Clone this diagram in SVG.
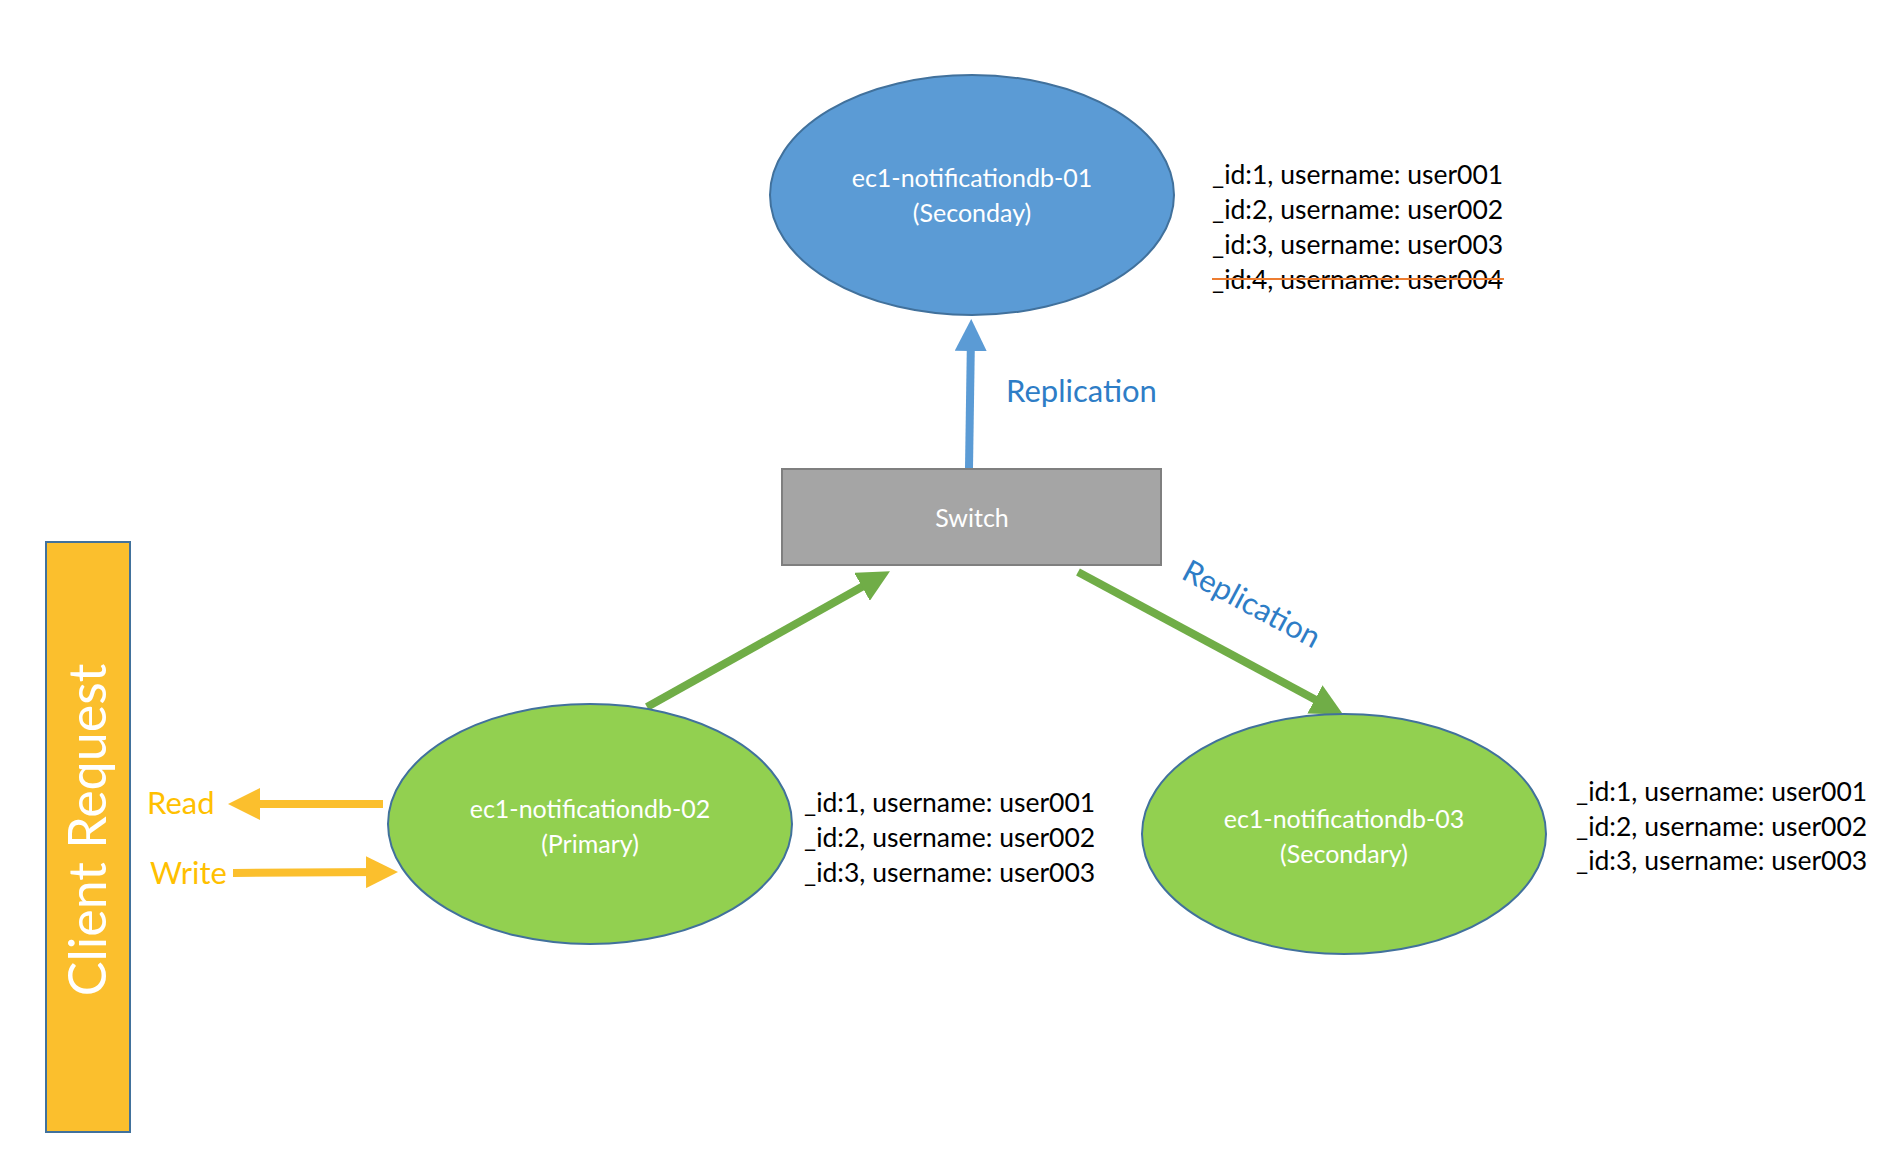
<svg xmlns="http://www.w3.org/2000/svg" width="1878" height="1162" viewBox="0 0 1878 1162">
<style>
text{font-family:Lato,"Liberation Sans",sans-serif}
.nl{fill:#fff;font-size:25px;text-anchor:middle}
.rec{fill:#000;font-size:26.5px}
.rep{fill:#2e7dc6;font-size:31px}
.cl{fill:#ffc000;font-size:31px}
</style>
<defs>
<marker id="ab" markerWidth="4" markerHeight="4" refX="2" refY="2" orient="auto" markerUnits="strokeWidth"><path d="M0,0L4,2L0,4z" fill="#5b9bd5"/></marker>
<marker id="ag" markerWidth="4" markerHeight="4" refX="2" refY="2" orient="auto" markerUnits="strokeWidth"><path d="M0,0L4,2L0,4z" fill="#70ad47"/></marker>
<marker id="ay" markerWidth="4" markerHeight="4" refX="2" refY="2" orient="auto" markerUnits="strokeWidth"><path d="M0,0L4,2L0,4z" fill="#fbbf2d"/></marker>
</defs>
<rect width="1878" height="1162" fill="#fff"/>
<g id="client">
<rect x="46" y="542" width="84" height="590" fill="#fbbf2d" stroke="#41719c" stroke-width="2"/>
<text transform="translate(106,830) rotate(-90)" text-anchor="middle" fill="#fff" font-size="52">Client Request</text>
</g>
<g id="connectors">
<line x1="969" y1="468" x2="971" y2="335" stroke="#5b9bd5" stroke-width="8" marker-end="url(#ab)"/>
<line x1="647" y1="707" x2="876" y2="579" stroke="#70ad47" stroke-width="8" marker-end="url(#ag)"/>
<line x1="1078" y1="572" x2="1329" y2="707" stroke="#70ad47" stroke-width="8" marker-end="url(#ag)"/>
<line x1="383" y1="804" x2="244" y2="804" stroke="#fbbf2d" stroke-width="8" marker-end="url(#ay)"/>
<line x1="233" y1="873" x2="382" y2="872" stroke="#fbbf2d" stroke-width="8" marker-end="url(#ay)"/>
<text class="rep" x="1006" y="402">Replication</text>
<text class="rep" transform="translate(1180,578) rotate(28)">Replication</text>
<text class="cl" x="147" y="814">Read</text>
<text class="cl" x="150" y="884">Write</text>
</g>
<g id="db01">
<ellipse cx="972" cy="195" rx="202" ry="120" fill="#5b9bd5" stroke="#41719c" stroke-width="2"/>
<text class="nl" x="972" y="187">ec1-notificationdb-01</text>
<text class="nl" x="972" y="222">(Seconday)</text>
<text class="rec" x="1212" y="184">_id:1, username: user001</text>
<text class="rec" x="1212" y="219">_id:2, username: user002</text>
<text class="rec" x="1212" y="254">_id:3, username: user003</text>
<text class="rec" x="1212" y="289">_id:4, username: user004</text>
<line x1="1212" y1="279" x2="1504" y2="279" stroke="#ed7d31" stroke-width="2"/>
</g>
<g id="switch">
<rect x="782" y="469" width="379" height="96" fill="#a5a5a5" stroke="#7f7f7f" stroke-width="2"/>
<text class="nl" x="972" y="527">Switch</text>
</g>
<g id="db02">
<ellipse cx="590" cy="824" rx="202" ry="120" fill="#92d050" stroke="#41719c" stroke-width="2"/>
<text class="nl" x="590" y="818">ec1-notificationdb-02</text>
<text class="nl" x="590" y="853">(Primary)</text>
<text class="rec" x="804" y="812">_id:1, username: user001</text>
<text class="rec" x="804" y="847">_id:2, username: user002</text>
<text class="rec" x="804" y="882">_id:3, username: user003</text>
</g>
<g id="db03">
<ellipse cx="1344" cy="834" rx="202" ry="120" fill="#92d050" stroke="#41719c" stroke-width="2"/>
<text class="nl" x="1344" y="828">ec1-notificationdb-03</text>
<text class="nl" x="1344" y="863">(Secondary)</text>
<text class="rec" x="1576" y="801">_id:1, username: user001</text>
<text class="rec" x="1576" y="836">_id:2, username: user002</text>
<text class="rec" x="1576" y="870">_id:3, username: user003</text>
</g>
</svg>
